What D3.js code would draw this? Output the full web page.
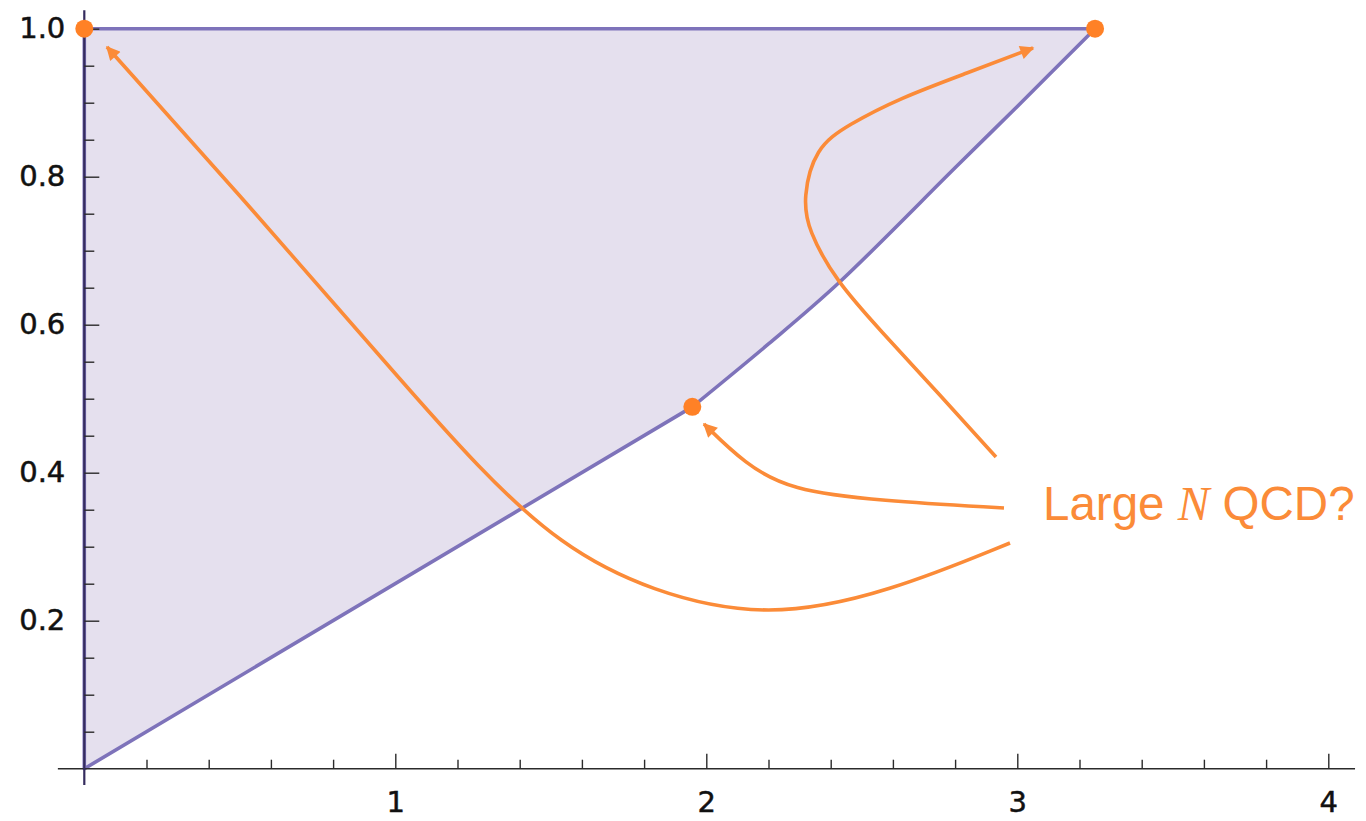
<!DOCTYPE html>
<html>
<head>
<meta charset="utf-8">
<script src="https://cdn.jsdelivr.net/npm/d3@7"></script>
<style>
  html, body { margin: 0; padding: 0; background: #ffffff; }
  svg { display: block; }
  .tick text { font-family: "DejaVu Sans", sans-serif; font-size: 29px; fill: #111; stroke: #111; stroke-width: 0.5px; }
</style>
</head>
<body>
<svg id="chart" width="1366" height="821"></svg>
<script>
// ---- data ----
const xMajorTicks = [1, 2, 3, 4];
const yMajorTicks = [0.2, 0.4, 0.6, 0.8, 1.0];
const xMinorTicks = [0.2, 0.4, 0.6, 0.8, 1.2, 1.4, 1.6, 1.8, 2.2, 2.4, 2.6, 2.8, 3.2, 3.4, 3.6, 3.8];
const yMinorTicks = [0.05, 0.1, 0.15, 0.25, 0.3, 0.35, 0.45, 0.5, 0.55, 0.65, 0.7, 0.75, 0.85, 0.9, 0.95];

// allowed region: left / top edges, straight lower edge, curved lower-right edge
const outerEdge = [[1.955, 0.489], [0, 0], [0, 1], [3.25, 1]];
const curvedEdge = [[3.25, 1.0], [3.0, 0.895], [2.8, 0.812], [2.4245, 0.656], [2.2, 0.574], [1.955, 0.489]];

// highlighted corner points
const cornerPoints = [[0, 1], [3.25, 1], [1.955, 0.489]];

// annotation arrows (spline control points), each from the label towards its target
const arrowToTopLeft = [[2.9765, 0.3050], [2.5907, 0.2388], [2.1984, 0.2023], [1.8190, 0.2388],
  [1.5296, 0.3023], [1.2723, 0.4036], [0.9830, 0.5415], [0.5650, 0.7442], [0.073, 0.9753]];
const arrowToKink = [[2.9572, 0.3523], [2.5585, 0.3618], [2.2692, 0.3766], [2.1245, 0.4118], [1.9926, 0.4659]];
const arrowToTopRight = [[2.9315, 0.4212], [2.7514, 0.5050], [2.5585, 0.5928], [2.4170, 0.6591],
  [2.3270, 0.7280], [2.3109, 0.7712], [2.3495, 0.8388], [2.4550, 0.8699], [2.6228, 0.9064],
  [2.8383, 0.9401], [3.0505, 0.9739]];

const labelParts = ["Large ", "N", " QCD?"];

// ---- drawing ----
const svg = d3.select("#chart");
const x = d3.scaleLinear().domain([0, 4]).range([84.3, 1328.3]);
const y = d3.scaleLinear().domain([0, 1]).range([768.7, 28.7]);

const purple = "#7e73ba";
const orange = "#fb8b38";

const lin = d3.line().x(d => x(d[0])).y(d => y(d[1]));
const smooth = d3.line().x(d => x(d[0])).y(d => y(d[1])).curve(d3.curveCatmullRom.alpha(0.5));
const arrowLine = d3.line().x(d => x(d[0])).y(d => y(d[1])).curve(d3.curveBasis);

// region: straight outer edges then the smooth curved edge back to start
const regionPath = lin(outerEdge) + smooth(curvedEdge).replace(/^M[^CL]*/, "") + "Z";
svg.append("path")
  .attr("d", regionPath)
  .attr("fill", "#e5e0ee")
  .attr("stroke", purple)
  .attr("stroke-width", 3.6)
  .attr("stroke-linejoin", "round");

// axis lines (extend a little past the data range)
const axisColor = "#2b2b2b";
svg.append("line")
  .attr("x1", x(-0.085)).attr("x2", x(4.086))
  .attr("y1", y(0)).attr("y2", y(0))
  .attr("stroke", axisColor).attr("stroke-width", 1.4);
svg.append("line")
  .attr("x1", x(0)).attr("x2", x(0))
  .attr("y1", y(-0.022)).attr("y2", y(1.025))
  .attr("stroke", "#352c5e").attr("stroke-width", 2.2);

// x axis: major ticks with labels, minor ticks (pointing inward)
const xMajor = svg.append("g").attr("transform", `translate(0,${y(0)})`)
  .call(d3.axisBottom(x).tickValues(xMajorTicks).tickFormat(d3.format("d"))
    .tickSizeInner(-15).tickSizeOuter(0).tickPadding(23));
const xMinor = svg.append("g").attr("transform", `translate(0,${y(0)})`)
  .call(d3.axisBottom(x).tickValues(xMinorTicks).tickFormat("")
    .tickSizeInner(-9).tickSizeOuter(0));

// y axis
const yMajor = svg.append("g").attr("transform", `translate(${x(0)},0)`)
  .call(d3.axisLeft(y).tickValues(yMajorTicks).tickFormat(d3.format(".1f"))
    .tickSizeInner(-15).tickSizeOuter(0).tickPadding(19));
const yMinor = svg.append("g").attr("transform", `translate(${x(0)},0)`)
  .call(d3.axisLeft(y).tickValues(yMinorTicks).tickFormat("")
    .tickSizeInner(-10).tickSizeOuter(0));

[xMajor, xMinor, yMajor, yMinor].forEach(g => {
  g.select(".domain").remove();
  g.selectAll(".tick line").attr("stroke", axisColor).attr("stroke-width", 1.4);
});

// arrowhead marker
svg.append("defs").append("marker")
  .attr("id", "head")
  .attr("viewBox", "0 0 10 10")
  .attr("refX", 9).attr("refY", 5)
  .attr("markerUnits", "userSpaceOnUse")
  .attr("markerWidth", 18).attr("markerHeight", 14)
  .attr("orient", "auto")
  .append("path")
  .attr("d", "M0,0 L10,5 L0,10 Z")
  .attr("fill", orange);

svg.append("g").selectAll("path")
  .data([arrowToTopLeft, arrowToKink, arrowToTopRight])
  .join("path")
  .attr("d", arrowLine)
  .attr("fill", "none")
  .attr("stroke", orange)
  .attr("stroke-width", 3.6)
  .attr("marker-end", "url(#head)");

// corner points
svg.append("g").selectAll("circle")
  .data(cornerPoints)
  .join("circle")
  .attr("cx", d => x(d[0]))
  .attr("cy", d => y(d[1]))
  .attr("r", 9)
  .attr("fill", "#ff8126");

// annotation label
const label = svg.append("text")
  .attr("x", 1043).attr("y", 520)
  .attr("font-family", "'Liberation Sans', Arial, sans-serif")
  .attr("font-size", 47.5)
  .attr("fill", orange)
  .attr("xml:space", "preserve")
  .style("white-space", "pre");
label.append("tspan").text(labelParts[0]);
label.append("tspan").text(labelParts[1])
  .attr("font-family", "'Liberation Serif', 'Times New Roman', serif")
  .attr("font-style", "italic");
label.append("tspan").text(labelParts[2]);
</script>
</body>
</html>
